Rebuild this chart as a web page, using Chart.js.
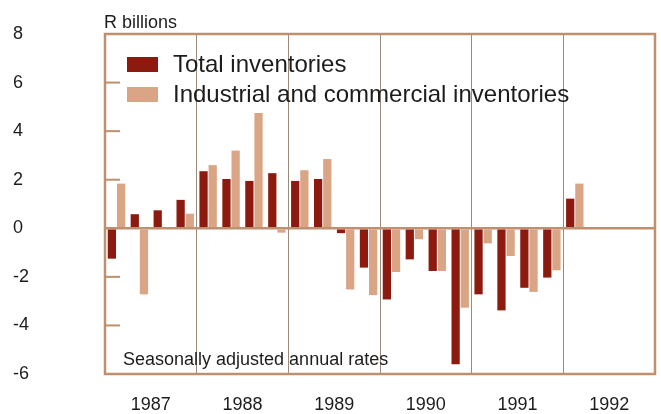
<!DOCTYPE html>
<html>
<head>
<meta charset="utf-8">
<script src="https://cdn.jsdelivr.net/npm/chart.js@4/dist/chart.umd.min.js"></script>
<style>
  html, body { margin: 0; padding: 0; background: #fff; }
  #wrap { width: 661px; height: 414px; }
</style>
</head>
<body>
<div id="wrap"><canvas id="chart" width="661" height="414"></canvas></div>
<script>
// Quarterly change in inventories, R billions
const years = ['1987', '1988', '1989', '1990', '1991', '1992'];
const quarters = [];
years.forEach(y => { for (let q = 1; q <= 4; q++) quarters.push(y + ' Q' + q); });

const totalInventories = [
  -1.25, 0.58, 0.74, 1.17,
  2.35, 2.03, 1.95, 2.27,
  1.95, 2.03, -0.2, -1.62,
  -2.93, -1.28, -1.76, -5.6,
  -2.72, -3.38, -2.45, -2.03,
  1.22, null, null, null
];
const industrialInventories = [
  1.84, -2.72, 0, 0.6,
  2.6, 3.2, 4.75, -0.18,
  2.39, 2.85, -2.52, -2.75,
  -1.8, -0.45, -1.76, -3.27,
  -0.62, -1.14, -2.62, -1.73,
  1.84, null, null, null
];
const yTicks = [-6, -4, -2, 0, 2, 4, 6, 8];

const darkRed = '#8c1a0e';
const tan = '#d9a584';
const frameColor = '#be9070';
const textColor = '#1c1c1c';
const fontFamily = '"Liberation Sans", Arial, Helvetica, sans-serif';

Chart.defaults.font.family = fontFamily;
Chart.defaults.color = textColor;

// Box around the plot, short inner tick marks and the two captions
const framePlugin = {
  id: 'frame',
  afterDatasetsDraw(chart) {
    const { ctx, chartArea: a, scales } = chart;
    ctx.save();
    ctx.strokeStyle = frameColor;
    ctx.lineWidth = 2.5;
    ctx.strokeRect(a.left, a.top, a.right - a.left, a.bottom - a.top);

    ctx.lineWidth = 2;
    yTicks.forEach(v => {
      if (v === 0 || v === yTicks[0] || v === yTicks[yTicks.length - 1]) return;
      const y = scales.y.getPixelForValue(v);
      ctx.beginPath();
      ctx.moveTo(a.left, y);
      ctx.lineTo(a.left + 15, y);
      ctx.stroke();
    });

    ctx.fillStyle = textColor;
    ctx.font = '18px ' + fontFamily;
    ctx.textAlign = 'left';
    ctx.textBaseline = 'alphabetic';
    ctx.fillText('R billions', a.left - 1, 28);
    ctx.fillText('Seasonally adjusted annual rates', 123, 365);
    ctx.restore();
  }
};

// Legend drawn inside the plot, top left
const legendPlugin = {
  id: 'insideLegend',
  afterDatasetsDraw(chart) {
    const { ctx } = chart;
    ctx.save();
    ctx.font = '24px ' + fontFamily;
    ctx.textAlign = 'left';
    ctx.textBaseline = 'alphabetic';
    chart.data.datasets.forEach((ds, i) => {
      const top = 57 + i * 30;
      ctx.fillStyle = ds.backgroundColor;
      ctx.fillRect(127, top, 31, 15);
      ctx.fillStyle = textColor;
      ctx.fillText(ds.label, 173, top + 15);
    });
    ctx.restore();
  }
};

new Chart(document.getElementById('chart'), {
  type: 'bar',
  data: {
    labels: quarters,
    datasets: [
      { label: 'Total inventories', data: totalInventories, backgroundColor: darkRed },
      { label: 'Industrial and commercial inventories', data: industrialInventories, backgroundColor: tan }
    ]
  },
  options: {
    responsive: false,
    animation: false,
    layout: { padding: { left: 13, right: 6, top: 34, bottom: 0 } },
    datasets: {
      bar: { categoryPercentage: 0.8, barPercentage: 0.9 }
    },
    plugins: {
      legend: { display: false },
      tooltip: { enabled: false }
    },
    scales: {
      x: {
        display: false,
        grid: { display: false }
      },
      years: {
        type: 'category',
        labels: years,
        position: 'bottom',
        offset: true,
        afterFit(scale) { scale.height = 40; },
        grid: {
          offset: true,
          color: '#9a8a7c',
          lineWidth: 1,
          drawTicks: false
        },
        border: { display: false },
        ticks: {
          padding: 20,
          font: { size: 18 },
          color: textColor,
          maxRotation: 0
        }
      },
      y: {
        min: -6,
        max: 8,
        afterFit(scale) { scale.width = 92; },
        afterBuildTicks(scale) { scale.ticks = yTicks.map(v => ({ value: v })); },
        grid: {
          drawTicks: false,
          color: ctx => (ctx.tick && ctx.tick.value === 0) ? frameColor : 'rgba(0,0,0,0)',
          lineWidth: 2.5
        },
        border: { display: false },
        ticks: {
          crossAlign: 'far',
          padding: 0,
          font: { size: 18 },
          color: textColor
        }
      }
    }
  },
  plugins: [framePlugin, legendPlugin]
});
</script>
</body>
</html>
